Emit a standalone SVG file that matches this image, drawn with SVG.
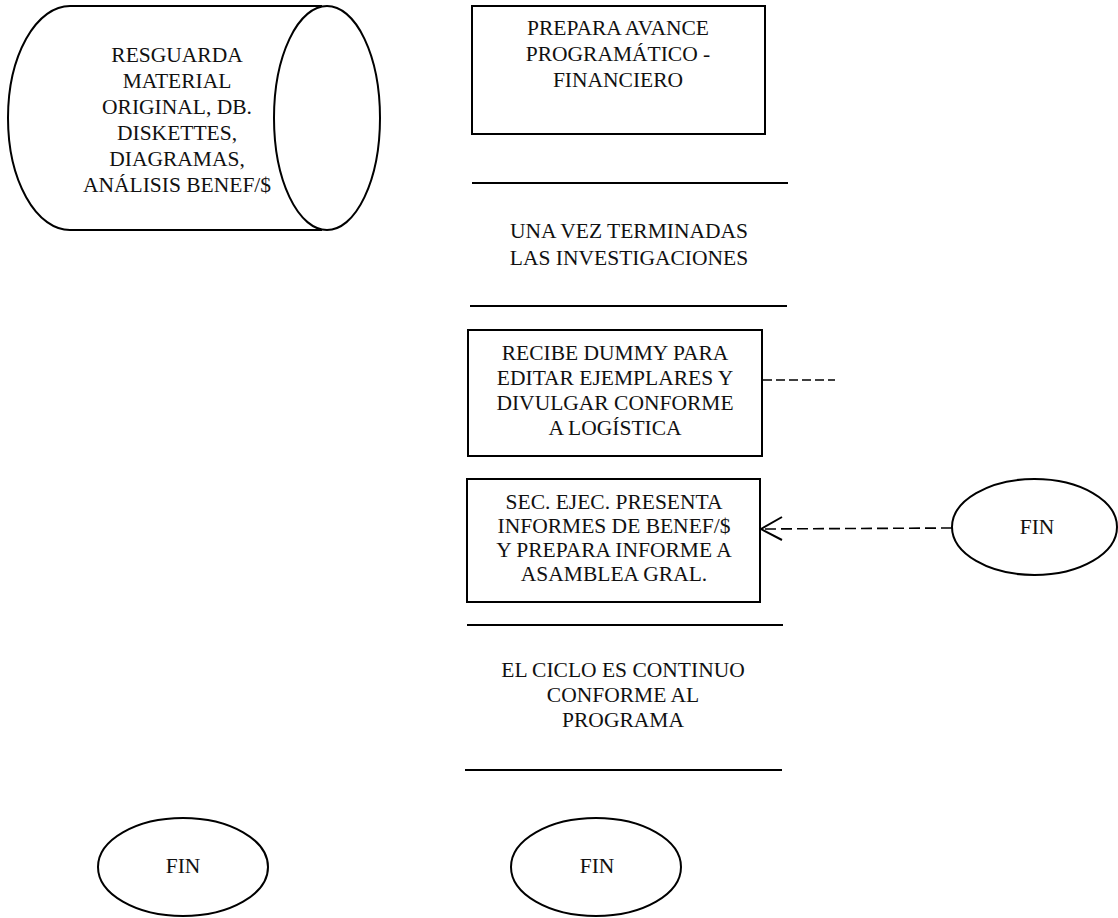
<svg xmlns="http://www.w3.org/2000/svg" width="1118" height="918" viewBox="0 0 1118 918">
<style>
.s{fill:none;stroke:#000;stroke-width:2}
.t{font-family:"Liberation Serif","Times New Roman",serif;font-size:21.5px;fill:#111;text-anchor:middle}
.d{fill:none;stroke:#000;stroke-width:1.6}
</style>
<rect width="1118" height="918" fill="#fff"/>
<g id="cylinder">
<path class="s" d="M 322,6 L 70,6 A 62 112 0 0 0 70,230 L 322,230"/>
<ellipse class="s" cx="327" cy="118" rx="53" ry="112"/>
<text class="t" x="177" y="62">RESGUARDA</text>
<text class="t" x="177" y="88">MATERIAL</text>
<text class="t" x="177" y="114">ORIGINAL, DB.</text>
<text class="t" x="177" y="140">DISKETTES,</text>
<text class="t" x="177" y="166">DIAGRAMAS,</text>
<text class="t" x="177" y="192">ANÁLISIS BENEF/$</text>
</g>
<g id="box1">
<rect class="s" x="472" y="6" width="293" height="128"/>
<text class="t" x="618" y="35">PREPARA AVANCE</text>
<text class="t" x="618" y="61">PROGRAMÁTICO -</text>
<text class="t" x="618" y="87">FINANCIERO</text>
</g>
<g id="note1">
<line class="s" x1="472" y1="183" x2="788" y2="183"/>
<line class="s" x1="470" y1="306" x2="787" y2="306"/>
<text class="t" x="629" y="238">UNA VEZ TERMINADAS</text>
<text class="t" x="629" y="265">LAS INVESTIGACIONES</text>
</g>
<g id="box2">
<rect class="s" x="468" y="330" width="294" height="126"/>
<text class="t" x="615" y="360">RECIBE DUMMY PARA</text>
<text class="t" x="615" y="385">EDITAR EJEMPLARES Y</text>
<text class="t" x="615" y="410">DIVULGAR CONFORME</text>
<text class="t" x="615" y="435">A LOGÍSTICA</text>
</g>
<g id="box3">
<rect class="s" x="467" y="479" width="293" height="123"/>
<text class="t" x="614" y="509">SEC. EJEC. PRESENTA</text>
<text class="t" x="614" y="533">INFORMES DE BENEF/$</text>
<text class="t" x="614" y="557">Y PREPARA INFORME A</text>
<text class="t" x="614" y="581">ASAMBLEA GRAL.</text>
</g>
<g id="note2">
<line class="s" x1="467" y1="625" x2="783" y2="625"/>
<line class="s" x1="465" y1="770" x2="782" y2="770"/>
<text class="t" x="623" y="677">EL CICLO ES CONTINUO</text>
<text class="t" x="623" y="702">CONFORME AL</text>
<text class="t" x="623" y="727">PROGRAMA</text>
</g>
<g id="fin-right">
<ellipse class="s" cx="1034.5" cy="527" rx="82.5" ry="48"/>
<text class="t" x="1037" y="534">FIN</text>
</g>
<g id="fin-left">
<ellipse class="s" cx="183" cy="867" rx="85" ry="49"/>
<text class="t" x="183" y="873">FIN</text>
</g>
<g id="fin-center">
<ellipse class="s" cx="596" cy="867" rx="85" ry="49"/>
<text class="t" x="597" y="873">FIN</text>
</g>
<g id="connectors">
<line class="d" x1="763" y1="380" x2="835" y2="380" stroke-dasharray="9 4"/>
<line class="d" x1="952" y1="528" x2="762" y2="529" stroke-dasharray="11 5"/>
<polyline class="s" points="782,517 761,529 782,540" stroke-width="2.5"/>
</g>
</svg>
